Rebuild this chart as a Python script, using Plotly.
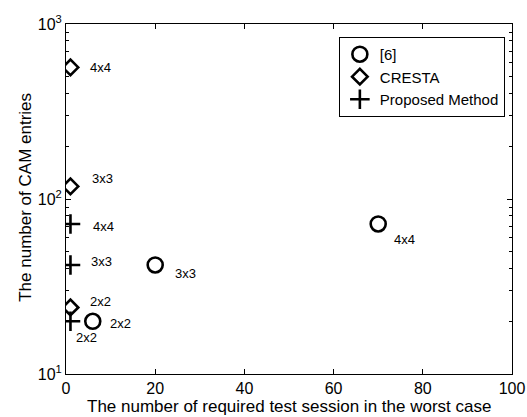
import math
import plotly.graph_objects as go

series_names = ["[6]", "CRESTA", "Proposed Method"]
labels = ["2x2", "3x3", "4x4"]
ref6_x = [6, 20, 70]
ref6_y = [20, 42, 72]
cresta_x = [1, 1, 1]
cresta_y = [24, 118, 565]
proposed_x = [1, 1, 1]
proposed_y = [20, 42, 72]
x_ticks = [0, 20, 40, 60, 80, 100]
y_ticks = [10, 100, 1000]
y_tick_text = ["10<sup>1</sup>", "10<sup>2</sup>", "10<sup>3</sup>"]
x_title = "The number of required test session in the worst case"
y_title = "The number of CAM entries"

FONT = "Liberation Sans, Arial, Helvetica, sans-serif"

fig = go.Figure()
fig.add_trace(go.Scatter(x=ref6_x, y=ref6_y, mode="markers", name=series_names[0],
                         marker=dict(symbol="circle-open", size=15, color="black",
                                     line=dict(width=2.6, color="black"))))
fig.add_trace(go.Scatter(x=cresta_x, y=cresta_y, mode="markers", name=series_names[1],
                         marker=dict(symbol="diamond-open", size=12, color="black",
                                     line=dict(width=2.6, color="black"))))
fig.add_trace(go.Scatter(x=proposed_x, y=proposed_y, mode="markers", name=series_names[2],
                         marker=dict(symbol="cross-thin-open", size=14, color="black",
                                     line=dict(width=2.6, color="black"))))

# label offsets (pixels) for each point
ref6_off = [(28, -2), (30, -9), (26, -16)]
cresta_off = [(30, 6), (32, 8), (30, 0)]
proposed_off = [(16, -16), (31, 3), (33, -3)]

for xs, ys, offs in [(ref6_x, ref6_y, ref6_off), (cresta_x, cresta_y, cresta_off),
                     (proposed_x, proposed_y, proposed_off)]:
    for x, y, lab, (dx, dy) in zip(xs, ys, labels, offs):
        fig.add_annotation(x=x, y=math.log10(y), yref="y", xref="x", text=lab,
                           showarrow=False, xshift=dx, yshift=dy,
                           font=dict(family=FONT, size=13, color="black"))

# axis titles placed as in the reference
fig.add_annotation(x=0.5, y=-0.094, xref="paper", yref="paper", text=x_title,
                   showarrow=False, xanchor="center", yanchor="middle",
                   font=dict(family=FONT, size=17, color="black"))
fig.add_annotation(x=-0.09, y=0.506, xref="paper", yref="paper", text=y_title,
                   showarrow=False, xanchor="center", yanchor="middle", textangle=-90,
                   font=dict(family=FONT, size=17, color="black"))

fig.update_layout(
    width=527, height=417,
    margin=dict(l=66, r=15, t=24, b=43),
    paper_bgcolor="white", plot_bgcolor="white",
    font=dict(family=FONT, size=16, color="black"),
    showlegend=True,
    legend=dict(x=0.984, y=0.963, xanchor="right", yanchor="top",
                bgcolor="white", bordercolor="black", borderwidth=1,
                font=dict(family=FONT, size=15, color="black"),
                itemsizing="trace", tracegroupgap=0),
)
fig.update_xaxes(
    range=[0, 100], tickvals=x_ticks, ticks="inside", ticklen=5, tickcolor="black",
    showline=True, linecolor="black", linewidth=1, mirror="ticks", showgrid=False,
    zeroline=False, tickfont=dict(size=16), automargin=False,
)
fig.update_yaxes(
    type="log", range=[1, 3], tickvals=y_ticks, ticktext=y_tick_text,
    ticks="inside", ticklen=5, tickcolor="black",
    showline=True, linecolor="black", linewidth=1, mirror="ticks", showgrid=False,
    zeroline=False, tickfont=dict(size=16), automargin=False,
    minor=dict(ticks="inside", ticklen=3, tickcolor="black", dtick="D1", showgrid=False),
)
fig.write_html("out.html", config={"displayModeBar": False},
               post_script="document.body.style.margin='0px';document.body.style.overflow='hidden';")
